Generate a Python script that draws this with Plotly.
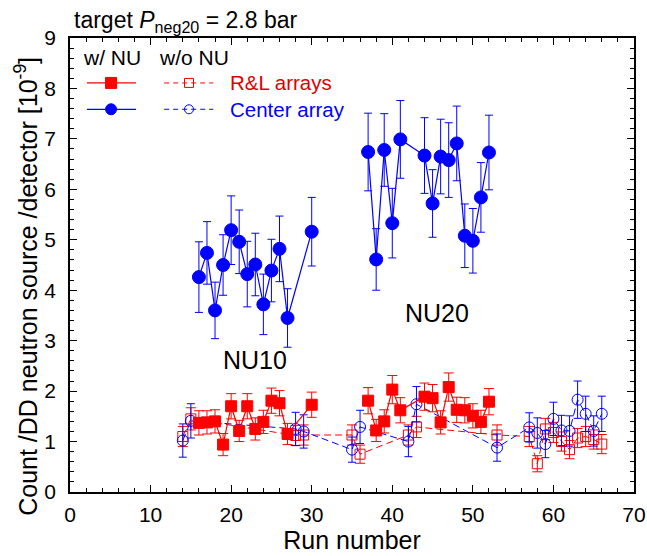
import plotly.graph_objects as go

# ---- data ----
# Center array, with NU (filled circles)
cw10_runs = [16, 17, 18, 19, 20, 21, 22, 23, 24, 25, 26, 27, 30]
cw10_vals = [4.26, 4.74, 3.60, 4.50, 5.19, 4.96, 4.32, 4.51, 3.72, 4.39, 4.82, 3.45, 5.16]
cw10_errs = [0.70, 0.62, 0.56, 0.60, 0.68, 0.63, 0.65, 0.62, 0.60, 0.62, 0.65, 0.58, 0.68]
cw20_runs = [37, 38, 39, 40, 41, 44, 45, 46, 47, 48, 49, 50, 51, 52]
cw20_vals = [6.74, 4.61, 6.78, 5.33, 6.99, 6.67, 5.72, 6.65, 6.58, 6.91, 5.08, 4.98, 5.84, 6.73]
cw20_errs = [0.77, 0.61, 0.72, 0.69, 0.77, 0.75, 0.67, 0.74, 0.74, 0.74, 0.63, 0.64, 0.69, 0.74]

# R&L arrays, with NU (filled squares)
rw10_runs = [16, 17, 18, 19, 20, 21, 22, 23, 24, 25, 26, 27, 30]
rw10_vals = [1.37, 1.38, 1.40, 0.94, 1.70, 1.21, 1.70, 1.25, 1.39, 1.81, 1.76, 1.15, 1.73]
rw10_errs = [0.24, 0.23, 0.23, 0.22, 0.25, 0.21, 0.25, 0.22, 0.23, 0.25, 0.25, 0.21, 0.25]
rw20_runs = [37, 38, 39, 40, 41, 44, 45, 46, 47, 48, 49, 50, 51, 52]
rw20_vals = [1.81, 1.22, 1.40, 2.03, 1.62, 1.89, 1.86, 1.38, 2.08, 1.63, 1.62, 1.51, 1.39, 1.79]
rw20_errs = [0.26, 0.22, 0.23, 0.28, 0.25, 0.27, 0.27, 0.23, 0.28, 0.25, 0.25, 0.24, 0.23, 0.26]

# without NU (open markers)
wo_runs = [14, 15, 28, 29, 35, 36, 42, 43, 53, 57, 58, 59, 60, 61, 62, 63, 64, 65, 66]
co_vals = [1.02, 1.41, 1.25, 1.20, 0.84, 1.29, 1.00, 1.74, 0.88, 1.28, 1.17, 0.95, 1.45,
           1.22, 1.21, 1.83, 1.55, 1.21, 1.55]
co_errs = [0.33, 0.34, 0.33, 0.33, 0.25, 0.33, 0.30, 0.35, 0.27, 0.29, 0.30, 0.27, 0.33,
           0.30, 0.30, 0.37, 0.35, 0.30, 0.35]
ro_vals = [1.10, 1.45, 1.12, 1.13, 1.13, 0.75, 1.13, 1.29, 1.13, 1.10, 0.56, 1.25, 1.18,
           1.00, 0.84, 1.07, 1.10, 1.04, 0.95]
ro_errs = [0.20, 0.22, 0.20, 0.20, 0.20, 0.18, 0.20, 0.21, 0.20, 0.20, 0.16, 0.21, 0.20,
           0.19, 0.18, 0.19, 0.20, 0.19, 0.19]

x_ticks = [0, 10, 20, 30, 40, 50, 60, 70]
y_ticks = [0, 1, 2, 3, 4, 5, 6, 7, 8, 9]

RED = "#ff0000"
BLUE = "#0000ff"
FONT = "Liberation Sans, Arial, sans-serif"
DASH = "7px,4px"

fig = go.Figure()


def add(x, y, e, color, symbol, size, dash, lw=1.2, cap=4):
    fig.add_trace(go.Scatter(
        x=x, y=y, mode="lines+markers",
        line=dict(color=color, width=lw, dash=dash),
        marker=dict(symbol=symbol, size=size, color=color,
                    line=dict(color=color, width=1)),
        error_y=dict(type="data", array=e, visible=True, color=color,
                     thickness=1, width=cap),
        showlegend=False, hoverinfo="skip"))


add(wo_runs, ro_vals, ro_errs, RED, "square-open", 10, DASH, 1.0, 5)
add(wo_runs, co_vals, co_errs, BLUE, "circle-open", 11, DASH, 1.0, 4)
add(rw10_runs, rw10_vals, rw10_errs, RED, "square", 11, "solid", 1.2, 5)
add(rw20_runs, rw20_vals, rw20_errs, RED, "square", 11, "solid", 1.2, 5)
add(cw10_runs, cw10_vals, cw10_errs, BLUE, "circle", 13, "solid", 1.2, 4)
add(cw20_runs, cw20_vals, cw20_errs, BLUE, "circle", 13, "solid", 1.2, 4)

axis_common = dict(
    showline=True, linecolor="black", linewidth=1.5, mirror="allticks",
    ticks="inside", ticklen=7, tickwidth=1.3, tickcolor="black",
    showgrid=False, zeroline=False, automargin=False,
    tickfont=dict(family=FONT, size=21, color="black"),
)

fig.update_xaxes(range=[0, 70], tickvals=x_ticks, ticktext=[str(v) for v in x_ticks],
                 minor=dict(dtick=2, ticks="inside", ticklen=4, tickwidth=1, tickcolor="black"),
                 ticklabelstandoff=3,
                 title=dict(text="Run number", font=dict(family=FONT, size=25, color="black"),
                            standoff=4),
                 **axis_common)
fig.update_yaxes(range=[0, 9], tickvals=y_ticks, ticktext=[str(v) for v in y_ticks],
                 minor=dict(dtick=0.2, ticks="inside", ticklen=4, tickwidth=1, tickcolor="black"),
                 ticklabelstandoff=8,
                 **axis_common)

shapes = []
annotations = []


def legend_row(yp, color, sym, label, label_color):
    shapes.append(dict(type="line", xref="paper", yref="paper", x0=0.030, x1=0.117,
                       y0=yp, y1=yp, line=dict(color=color, width=1.2)))
    shapes.append(dict(type="line", xref="paper", yref="paper", x0=0.167, x1=0.254,
                       y0=yp, y1=yp, line=dict(color=color, width=1, dash="5px,4px")))
    for xc, filled in ((0.0728, True), (0.211, False)):
        s = 11 if filled else 9
        shapes.append(dict(type=sym, xref="paper", yref="paper",
                           xsizemode="pixel", ysizemode="pixel", xanchor=xc, yanchor=yp,
                           x0=-s / 2, x1=s / 2, y0=-s / 2, y1=s / 2,
                           line=dict(color=color, width=1),
                           fillcolor=color if filled else "rgba(0,0,0,0)"))
    annotations.append(dict(text=label, xref="paper", yref="paper", x=0.281, y=yp,
                            xanchor="left", yanchor="middle", showarrow=False,
                            font=dict(family=FONT, size=20.5, color=label_color)))


legend_row(0.901, RED, "rect", "R&amp;L arrays", "#e00000")
legend_row(0.843, BLUE, "circle", "Center array", BLUE)

annotations += [
    dict(text="w/ NU", xref="paper", yref="paper", x=0.019, y=0.957, xanchor="left",
         yanchor="middle", showarrow=False, font=dict(family=FONT, size=21, color="black")),
    dict(text="w/o NU", xref="paper", yref="paper", x=0.154, y=0.957, xanchor="left",
         yanchor="middle", showarrow=False, font=dict(family=FONT, size=21, color="black")),
    dict(text="target <i>P</i><sub>neg20</sub> = 2.8 bar", xref="paper", yref="paper",
         x=0.004, y=1.0, xanchor="left", yanchor="bottom", showarrow=False,
         font=dict(family=FONT, size=23, color="black")),
    dict(text="NU10", x=23.0, y=2.62, xref="x", yref="y", showarrow=False,
         font=dict(family=FONT, size=25, color="black")),
    dict(text="NU20", x=45.5, y=3.55, xref="x", yref="y", showarrow=False,
         font=dict(family=FONT, size=25, color="black")),
    # y-axis title (placed as text so it can sit slightly below the plot centre, as in the reference)
    dict(text="Count /DD neutron source /detector [10<sup>-9</sup>]", xref="paper", yref="paper",
         x=-0.078, y=0.452, xanchor="center", yanchor="middle", textangle=-90,
         showarrow=False, font=dict(family=FONT, size=25, color="black")),
]

fig.update_layout(
    width=647, height=556,
    margin=dict(l=70, r=13, t=38, b=64),
    paper_bgcolor="white", plot_bgcolor="white",
    shapes=shapes, annotations=annotations,
    font=dict(family=FONT, color="black"),
)

fig.write_html("out.html")
